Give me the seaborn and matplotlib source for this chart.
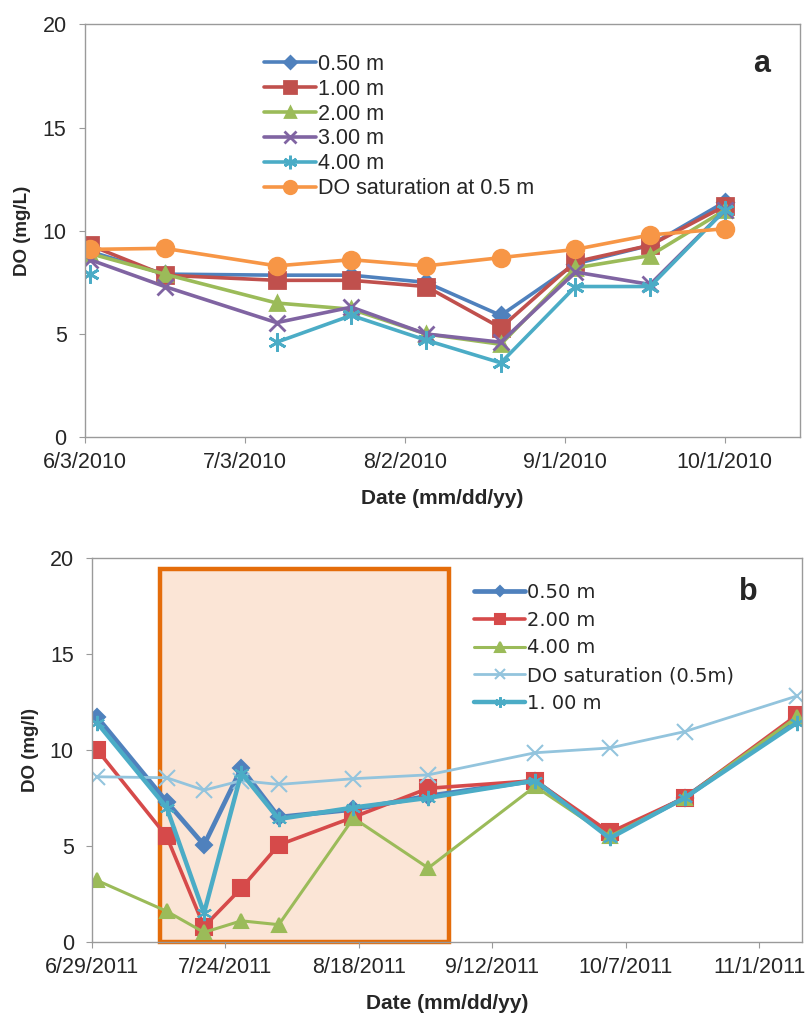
import pandas as pd
import numpy as np
import seaborn as sns
import matplotlib.pyplot as plt
import matplotlib.dates as mdates
from matplotlib.patches import Rectangle

# panel a data (2010)
dates_a = ["2010-06-04", "2010-06-18", "2010-07-09", "2010-07-23", "2010-08-06",
           "2010-08-20", "2010-09-03", "2010-09-17", "2010-10-01"]
do_050_a = [9.0, 7.9, 7.85, 7.85, 7.5, 5.9, 8.4, 9.3, 11.4]
do_100_a = [9.3, 7.85, 7.6, 7.6, 7.3, 5.3, 8.5, 9.3, 11.2]
do_200_a = [8.9, 7.9, 6.5, 6.2, 5.0, 4.5, 8.2, 8.8, 11.0]
do_300_a = [8.6, 7.3, 5.55, 6.3, 5.0, 4.6, 8.0, 7.4, 11.0]
do_400_a = [7.9, np.nan, 4.6, 5.9, 4.7, 3.6, 7.3, 7.3, 11.0]
do_sat_a = [9.1, 9.15, 8.3, 8.6, 8.3, 8.7, 9.1, 9.8, 10.1]
ticks_a = ["2010-06-03", "2010-07-03", "2010-08-02", "2010-09-01", "2010-10-01"]
ticklabels_a = ["6/3/2010", "7/3/2010", "8/2/2010", "9/1/2010", "10/1/2010"]

# panel b data (2011)
dates_b = ["2011-06-30", "2011-07-13", "2011-07-20", "2011-07-27", "2011-08-03",
           "2011-08-17", "2011-08-31", "2011-09-20", "2011-10-04", "2011-10-18",
           "2011-11-08"]
do_050_b = [11.7, 7.3, 5.05, 9.05, 6.5, 6.9, 7.6, 8.4, 5.5, 7.5, 11.6]
do_200_b = [10.0, 5.5, 0.8, 2.8, 5.05, 6.5, 8.0, 8.4, 5.7, 7.5, 11.8]
do_400_b = [3.2, 1.6, 0.5, 1.1, 0.9, 6.45, 3.85, 8.1, 5.5, 7.5, 11.7]
do_sat_b = [8.6, 8.55, 7.9, 8.4, 8.2, 8.5, 8.7, 9.85, 10.1, 10.95, 12.8]
do_100_b = [11.4, 7.0, 1.5, 8.8, 6.4, 7.0, 7.5, 8.4, 5.4, 7.5, 11.4]
ticks_b = ["2011-06-29", "2011-07-24", "2011-08-18", "2011-09-12", "2011-10-07", "2011-11-01"]
ticklabels_b = ["6/29/2011", "7/24/2011", "8/18/2011", "9/12/2011", "10/7/2011", "11/1/2011"]

sns.set_style("white")
plt.rcParams['font.family'] = ['Liberation Sans', 'DejaVu Sans']


def draw(ax, dates, vals, label, **kw):
    # split on missing values so gaps stay gaps
    df = pd.DataFrame({"date": pd.to_datetime(dates), "val": vals})
    grp = df["val"].isna().cumsum()
    first = True
    for _, part in df[df["val"].notna()].groupby(grp[df["val"].notna()]):
        sns.lineplot(data=part, x="date", y="val", ax=ax,
                     label=label if first else None, legend=False, **kw)
        first = False


def style_axes(ax, ticks, labels, xlim, ylabel):
    ax.set_ylim(0, 20)
    ax.set_yticks([0, 5, 10, 15, 20])
    ax.set_xlim(pd.to_datetime(xlim[0]), pd.to_datetime(xlim[1]))
    ax.set_xticks(pd.to_datetime(ticks))
    ax.set_xticklabels(labels)
    ax.tick_params(axis="both", labelsize=15.5, length=4, color="#9a9a9a",
                   direction="out", bottom=True, left=True)
    ax.tick_params(axis="x", pad=7)
    ax.tick_params(axis="y", pad=9)
    for s in ax.spines.values():
        s.set_color("#9a9a9a")
        s.set_linewidth(1.0)
    ax.set_xlabel("Date (mm/dd/yy)", fontsize=15, fontweight="bold", labelpad=11)
    ax.set_ylabel(ylabel, fontsize=13.5, fontweight="bold", labelpad=8)


fig = plt.figure(figsize=(8.06, 10.19), dpi=100)

# ---------- panel a ----------
ax1 = fig.add_axes([0.105, 0.571, 0.887, 0.405])
series_a = [
    (do_050_a, "0.50 m", "#4F81BD", "D", 8),
    (do_100_a, "1.00 m", "#C0504D", "s", 11),
    (do_200_a, "2.00 m", "#9BBB59", "^", 10),
    (do_300_a, "3.00 m", "#8064A2", "x", 11),
    (do_400_a, "4.00 m", "#4BACC6", (6, 2, 0), 13),
    (do_sat_a, "DO saturation at 0.5 m", "#F79646", "o", 12),
]
for vals, lab, col, mk, ms in series_a:
    draw(ax1, dates_a, vals, lab, color=col, marker=mk, markersize=ms,
         linewidth=2.6, markeredgecolor=col, markeredgewidth=2)
style_axes(ax1, ticks_a, ticklabels_a, ("2010-06-03", "2010-10-15"), "DO (mg/L)")
ax1.legend(loc="upper left", bbox_to_anchor=(0.236, 0.955), frameon=False,
           fontsize=15.5, handlelength=2.4, handletextpad=0.1, labelspacing=0.18,
           borderpad=0, markerscale=0.75)
ax1.text(0.947, 0.905, "a", transform=ax1.transAxes, fontsize=22,
         fontweight="bold", ha="center", va="center")

# ---------- panel b ----------
ax2 = fig.add_axes([0.114, 0.0756, 0.881, 0.377])
x0 = mdates.date2num(pd.Timestamp("2011-07-11 16:00"))
x1 = mdates.date2num(pd.Timestamp("2011-09-03 20:00"))
ax2.add_patch(Rectangle((x0, 0), x1 - x0, 19.4, facecolor="#FBE5D6",
                        edgecolor="#E46C0A", linewidth=3.2, zorder=0.5,
                        clip_on=False))
series_b = [
    (do_050_b, "0.50 m", "#4F81BD", "D", 8, 3.4),
    (do_200_b, "2.00 m", "#D64A4A", "s", 11, 2.6),
    (do_400_b, "4.00 m", "#9BBB59", "^", 10, 2.2),
    (do_sat_b, "DO saturation (0.5m)", "#93C4DD", "x", 11, 2.0),
    (do_100_b, "1. 00 m", "#4BACC6", (6, 2, 0), 11, 3.2),
]
for vals, lab, col, mk, ms, lw in series_b:
    draw(ax2, dates_b, vals, lab, color=col, marker=mk, markersize=ms,
         linewidth=lw, markeredgecolor=col, markeredgewidth=1.5)
style_axes(ax2, ticks_b, ticklabels_b, ("2011-06-29", "2011-11-09"), "DO (mg/l)")
ax2.legend(loc="upper left", bbox_to_anchor=(0.525, 0.96), frameon=False,
           prop={"family": "DejaVu Sans", "size": 14}, handlelength=2.6,
           handletextpad=0.1, labelspacing=0.45, borderpad=0, markerscale=0.7)
ax2.text(0.924, 0.911, "b", transform=ax2.transAxes, fontsize=22,
         fontweight="bold", ha="center", va="center")

fig.savefig("out.png", dpi=100)
